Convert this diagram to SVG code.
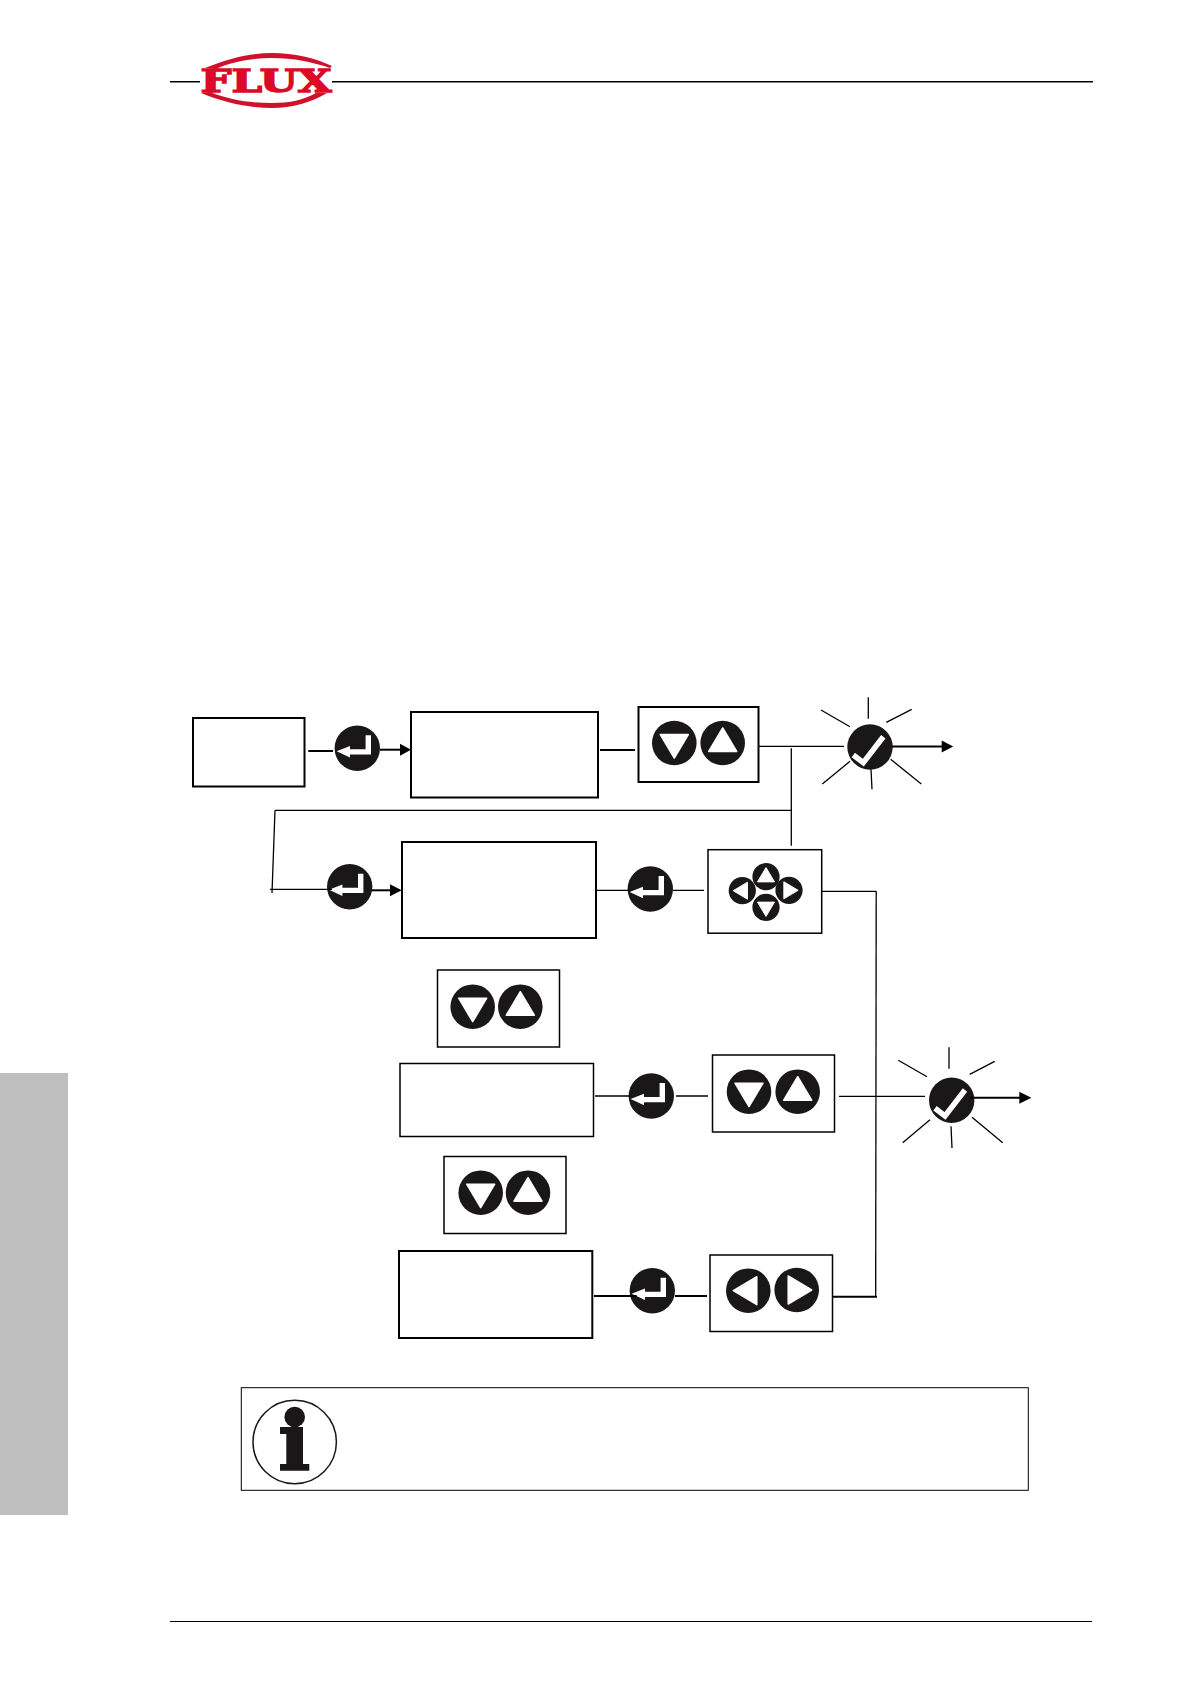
<svg xmlns="http://www.w3.org/2000/svg" xmlns:xlink="http://www.w3.org/1999/xlink" width="1191" height="1684" viewBox="0 0 1191 1684">
<style>
.box{fill:#fff;stroke:#000;stroke-width:1.5}
.box2{fill:#fff;stroke:#000;stroke-width:2}
.ln{fill:none;stroke:#000;stroke-width:1.3}
.ln2{fill:none;stroke:#000;stroke-width:2}
.disc{fill:#1a1718}
.glyph{fill:#fff;stroke:#fff;stroke-width:1.5;stroke-linejoin:round}
.head{fill:#000}
</style>
<defs>
<g id="enter"><circle class="disc" r="22.7"/><path fill="#fff" d="M-20.7 3L-7.3-2.3V1H8.3V-13H13.7V6.3H-7.3V9.3Z"/></g>
<g id="down"><circle class="disc" r="22.3"/><path class="glyph" d="M-14-8.5H14L0 15Z"/></g>
<g id="up"><circle class="disc" r="22.3"/><path class="glyph" d="M0-15L14 8.5H-14Z"/></g>
<g id="left"><circle class="disc" r="22.3"/><path class="glyph" d="M-15 0L8.5-14V14Z"/></g>
<g id="right"><circle class="disc" r="22.3"/><path class="glyph" d="M15 0L-8.5-14V14Z"/></g>
<g id="check"><circle class="disc" r="22.7"/><path d="M-16.7 8L-6.7 15.7L13.3-10.3" fill="none" stroke="#fff" stroke-width="5.5"/></g>
</defs>

<g id="page-furniture">
<rect id="side-tab" x="0" y="1073" width="68" height="442" fill="#bfbfbf"/>
<path d="M170 81.7H200M332 81.7H1093" stroke="#000" stroke-width="1.6" fill="none"/>
<path d="M170 1621.500H1092" stroke="#000" stroke-width="1.200"/>
</g>
<g id="logo">
<path fill="#d0112b" d="M205 68C232 57 252 53 272 53C294 53 315 58 332 66L330 68C312 62 294 58 272 58C252 58 232 62 216 69Z"/>
<path fill="#d0112b" d="M201 93C225 103 250 108 272 108C292 108 312 102 327 93L316 93C303 100 290 103 272 103C250 103 230 100 210 92Z"/>
<text x="200.500" y="91.500" font-family="'DejaVu Serif','Liberation Serif',serif" font-weight="bold" font-size="31" fill="#dc0a26" stroke="#dc0a26" stroke-width="1.400" textLength="131" lengthAdjust="spacingAndGlyphs">FLUX</text>
</g>

<g id="box-a"><rect class="box2" x="193" y="718" width="111.500" height="68.500"/></g>
<g id="enter-a"><use href="#enter" x="357.300" y="748.300"/></g>
<g id="box-b"><rect class="box2" x="411" y="712" width="187" height="85.500"/></g>
<g id="keys-a"><rect class="box2" x="638.500" y="707" width="120" height="75"/><use href="#down" x="674.300" y="743"/><use href="#up" x="722.700" y="743"/></g>
<g id="check-a"><use href="#check" x="870" y="747"/>
<path class="ln" d="M868.300 697.300V718.700M821 710L850 726.700M911.700 709.300L886.300 722.300M850 761.300L822.300 784M871 769.300L872 789.300M890.700 759.300L921.300 784"/></g>

<g id="enter-b"><use href="#enter" x="349.700" y="886.700"/></g>
<g id="box-c"><rect class="box2" x="402" y="842" width="194" height="96"/></g>
<g id="enter-c"><use href="#enter" x="650.300" y="889"/></g>
<g id="keys-b"><rect class="box" x="708" y="849.700" width="113.700" height="83.500"/>
<g transform="translate(766 876.700) scale(.61)"><use href="#up"/></g>
<g transform="translate(742.300 890.700) scale(.61)"><use href="#left"/></g>
<g transform="translate(789 890.300) scale(.61)"><use href="#right"/></g>
<g transform="translate(766 907.300) scale(.61)"><use href="#down"/></g></g>

<g id="keys-c"><rect class="box" x="437.500" y="970" width="122" height="77"/><use href="#down" x="472.700" y="1006.700"/><use href="#up" x="520.300" y="1006.700"/></g>
<g id="box-d"><rect class="box" x="400" y="1063.500" width="193.500" height="73"/></g>
<g id="enter-d"><use href="#enter" x="651.300" y="1096"/></g>
<g id="keys-d"><rect class="box" x="712.500" y="1055" width="122" height="77"/><use href="#down" x="749" y="1091.700"/><use href="#up" x="797.700" y="1091.700"/></g>
<g id="check-b"><use href="#check" x="951.700" y="1100.300"/>
<path class="ln" d="M949 1047.300V1068.700M898.300 1060.300L927 1076.700M994.700 1061.300L969.700 1074.300M930 1119.700L902.700 1142.700M951 1126.300L952 1148M972 1117.300L1002.700 1142.700"/></g>

<g id="keys-e"><rect class="box" x="444" y="1156.500" width="122" height="77"/><use href="#down" x="480.700" y="1192.700"/><use href="#up" x="528" y="1192.700"/></g>
<g id="box-e"><rect class="box2" x="399" y="1251" width="193.300" height="87"/></g>
<g id="enter-e"><use href="#enter" x="652.300" y="1290.700"/></g>
<g id="keys-f"><rect class="box" x="710" y="1255" width="122.500" height="76.500"/><use href="#left" x="748.300" y="1290.700"/><use href="#right" x="796.700" y="1290"/></g>

<g id="note">
<rect x="241.300" y="1387.700" width="787" height="102.600" fill="#fff" stroke="#000" stroke-width="1"/>
<circle cx="294.700" cy="1442" r="41.700" fill="none" stroke="#1a1718" stroke-width="1.500"/>
<circle cx="294.700" cy="1417" r="10.300" fill="#1a1718"/>
<path fill="#1a1718" d="M280 1427H303V1464H309.300V1470.700H280V1464H286.300V1434H280Z"/>
</g>

<g id="connectors">
<path class="ln2" d="M308.300 751H333"/>
<path class="ln2" d="M380 749.700H401"/><path class="head" d="M411 749.700L400 743.700V755.700Z"/>
<path class="ln2" d="M600 750H635"/>
<path class="ln" d="M758.500 746.300H844M791.300 748.300V845.700M791.300 810.300H275M275 810.300L272 893M270 889.300H332"/>
<path class="ln2" d="M372 890.300H391"/><path class="head" d="M401.700 890.300L390 884.300V896.300Z"/>
<path class="ln" d="M596.500 890.300H630M673 890.300H704"/>
<path class="ln" d="M822 891.300H876.300"/>
<path class="ln" d="M876.200 891.300L875.700 1296.700"/>
<path class="ln2" d="M832.500 1296.700H877"/>
<path class="ln" d="M595 1096H630M676 1096H708M839 1096.300H925"/>
<path class="ln2" d="M594 1296H636.700M675 1296H707"/>
<path class="ln2" d="M892 746.500H942"/><path class="head" d="M953.300 746.500L941.700 740.500V752.500Z"/>
<path class="ln2" d="M970 1097.700H1020"/><path class="head" d="M1031.300 1097.700L1019.300 1091.700V1103.700Z"/>
</g>
</svg>
